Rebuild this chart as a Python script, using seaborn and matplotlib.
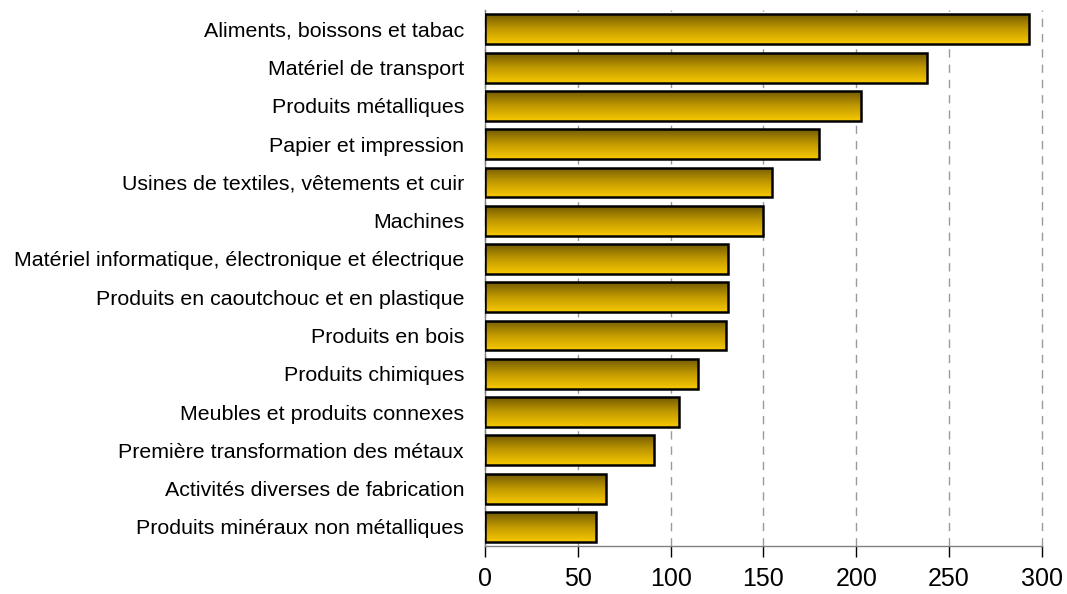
import numpy as np
import pandas as pd
import matplotlib
matplotlib.use("Agg")
import matplotlib.pyplot as plt
import seaborn as sns
from matplotlib.colors import LinearSegmentedColormap

categories = [
    "Aliments, boissons et tabac",
    "Matériel de transport",
    "Produits métalliques",
    "Papier et impression",
    "Usines de textiles, vêtements et cuir",
    "Machines",
    "Matériel informatique, électronique et électrique",
    "Produits en caoutchouc et en plastique",
    "Produits en bois",
    "Produits chimiques",
    "Meubles et produits connexes",
    "Première transformation des métaux",
    "Activités diverses de fabrication",
    "Produits minéraux non métalliques",
]
values = [293, 238, 202.5, 180, 154.5, 149.5, 131, 131, 130, 115, 104.5, 91, 65, 60]
xticks = [0, 50, 100, 150, 200, 250, 300]

sns.set_theme(style="white")
plt.rcParams['font.family'] = ['Liberation Sans', 'DejaVu Sans']

df = pd.DataFrame({"cat": categories, "val": values})

fig = plt.figure(figsize=(10.67, 5.94), dpi=100)
ax = fig.add_axes([0.4545, 0.0808, 0.522, 0.902])

sns.barplot(data=df, y="cat", x="val", orient="h", color="#f5c400",
            width=0.78, edgecolor="black", linewidth=1.8, ax=ax, zorder=3)

cmap = LinearSegmentedColormap.from_list("g", ["#745c00", "#c29a00", "#f7c800"])
grad = np.linspace(0, 1, 64).reshape(-1, 1)
for p in ax.patches:
    x0, y0 = p.get_x(), p.get_y()
    w, h = p.get_width(), p.get_height()
    im = ax.imshow(grad, cmap=cmap, aspect="auto",
                   extent=[x0, x0 + w, y0 + h, y0], zorder=3.5,
                   interpolation="bilinear")
    im.set_clip_path(p)
    p.set_zorder(4)
    p.set_facecolor("none")

ax.set_xlim(0, 300)
ax.set_ylim(len(categories) - 0.5, -0.5)
ax.set_xticks(xticks)
ax.set_xticklabels([str(t) for t in xticks], fontsize=18)
ax.tick_params(axis="x", bottom=True, direction="out", length=8, width=1,
               color="black", pad=7)
ax.tick_params(axis="y", left=False, length=0, labelsize=15.4, pad=15)
ax.set_xlabel("")
ax.set_ylabel("")
for t in ax.get_yticklabels() + ax.get_xticklabels():
    t.set_color("black")

ax.xaxis.grid(True, linestyle=(0, (6, 5)), color="#9a9a9a", linewidth=1, zorder=0)
for gl in ax.get_xgridlines():
    gl.set_clip_on(False)
ax.yaxis.grid(False)
ax.set_axisbelow(True)
for s in ["top", "right"]:
    ax.spines[s].set_visible(False)
for s in ["left", "bottom"]:
    ax.spines[s].set_color("#808080")
    ax.spines[s].set_linewidth(1)

fig.savefig("out.png", dpi=100)
